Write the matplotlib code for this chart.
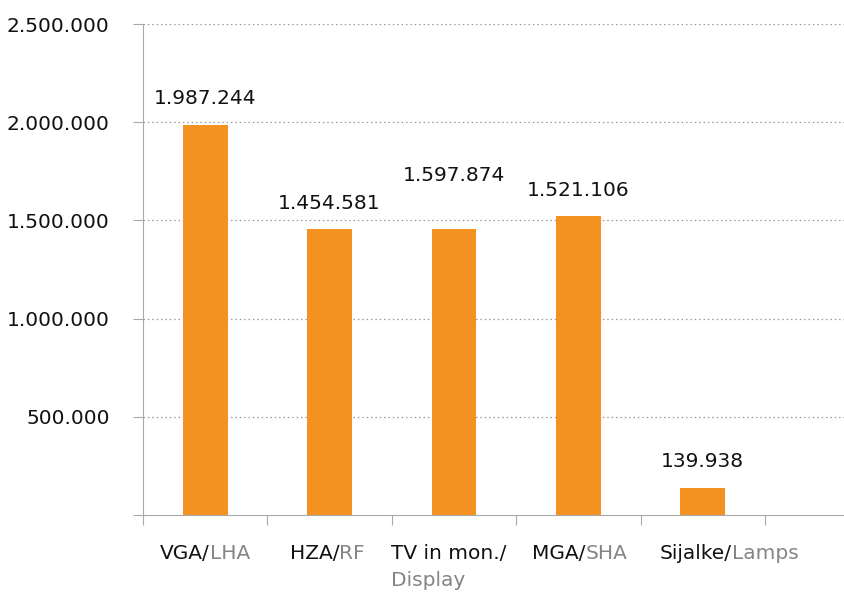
import matplotlib
matplotlib.use("Agg")
import matplotlib.pyplot as plt
from matplotlib.ticker import FixedLocator, FuncFormatter
from matplotlib.transforms import offset_copy

# ---- data ----
cat_main = ["VGA/", "HZA/", "TV in mon./", "MGA/", "Sijalke/"]
cat_sub = ["LHA", "RF", "Display", "SHA", "Lamps"]
bar_values = [1987244, 1454581, 1454581, 1521106, 139938]   # bar heights as drawn
label_values = [1987244, 1454581, 1597874, 1521106, 139938]  # printed values
y_ticks = [0, 500000, 1000000, 1500000, 2000000, 2500000]

# ---- style ----
ORANGE = "#F39220"
GRAY_TXT = "#858585"
TXT = "#111111"
FS = 14.5
plt.rcParams["font.family"] = ["DejaVu Sans"]

fig = plt.figure(figsize=(8.45, 5.92), dpi=100)
ax = fig.add_axes([143/845, 1-515/592, 1-143/845, (515-24)/592])

x = list(range(len(bar_values)))
ax.bar(x, bar_values, width=0.36, color=ORANGE, zorder=3)

ax.set_xlim(-0.5, 5.143)
ax.set_ylim(0, 2500000)

def fmt(v):
    return f"{int(v):,}".replace(",", ".")

for xi, lv in zip(x, label_values):
    ax.annotate(fmt(lv), (xi, lv), xytext=(0, 12), textcoords="offset points",
                ha="center", va="bottom", fontsize=FS, color=TXT)

# y axis
ax.yaxis.set_major_locator(FixedLocator(y_ticks))
ax.yaxis.set_major_formatter(FuncFormatter(lambda v, p: "" if v == 0 else fmt(v)))
ax.tick_params(axis="y", length=7, color="#aaaaaa", labelsize=FS, pad=17, labelcolor=TXT)
for t in y_ticks[1:]:
    ax.axhline(t, color="#999999", linestyle=(0, (1.2, 2.3)), linewidth=0.9, zorder=1)

# x axis ticks at category boundaries
ax.xaxis.set_major_locator(FixedLocator([-0.5, 0.5, 1.5, 2.5, 3.5, 4.5]))
ax.xaxis.set_major_formatter(FuncFormatter(lambda v, p: ""))
ax.tick_params(axis="x", length=7, color="#aaaaaa")

for s in ["top", "right"]:
    ax.spines[s].set_visible(False)
ax.spines["left"].set_color("#aaaaaa")
ax.spines["bottom"].set_color("#aaaaaa")
ax.spines["bottom"].set_zorder(4)

# two-colour category labels
label_x = [0.0, 0.98, 1.956, 3.01, 4.21]
fig.canvas.draw()
renderer = fig.canvas.get_renderer()
trans = ax.get_xaxis_transform()
W, H = fig.bbox.width, fig.bbox.height
ytop = H - 515 - 29
for i, (m, s) in enumerate(zip(cat_main, cat_sub)):
    cx = ax.transData.transform((label_x[i], 0))[0]
    if s == "Display":
        t1 = ax.text(label_x[i], 0, m, fontsize=FS, color=TXT, ha="center", va="top",
                     transform=offset_copy(trans, fig=fig, x=0, y=-29, units="dots"))
        fig.canvas.draw()
        bb = t1.get_window_extent(renderer)
        fig.text(bb.x0 / W, (bb.y0 - 8) / H, s, fontsize=FS, color=GRAY_TXT,
                 ha="left", va="top")
    else:
        tf = fig.text(0, 0, m + s, fontsize=FS)
        wf = tf.get_window_extent(renderer).width
        tf.remove()
        left = cx - wf / 2
        right = cx + wf / 2
        fig.text(left / W, ytop / H, m, fontsize=FS, color=TXT, ha="left", va="top")
        fig.text(right / W, ytop / H, s, fontsize=FS, color=GRAY_TXT, ha="right", va="top")

fig.savefig("out.png", dpi=100)
